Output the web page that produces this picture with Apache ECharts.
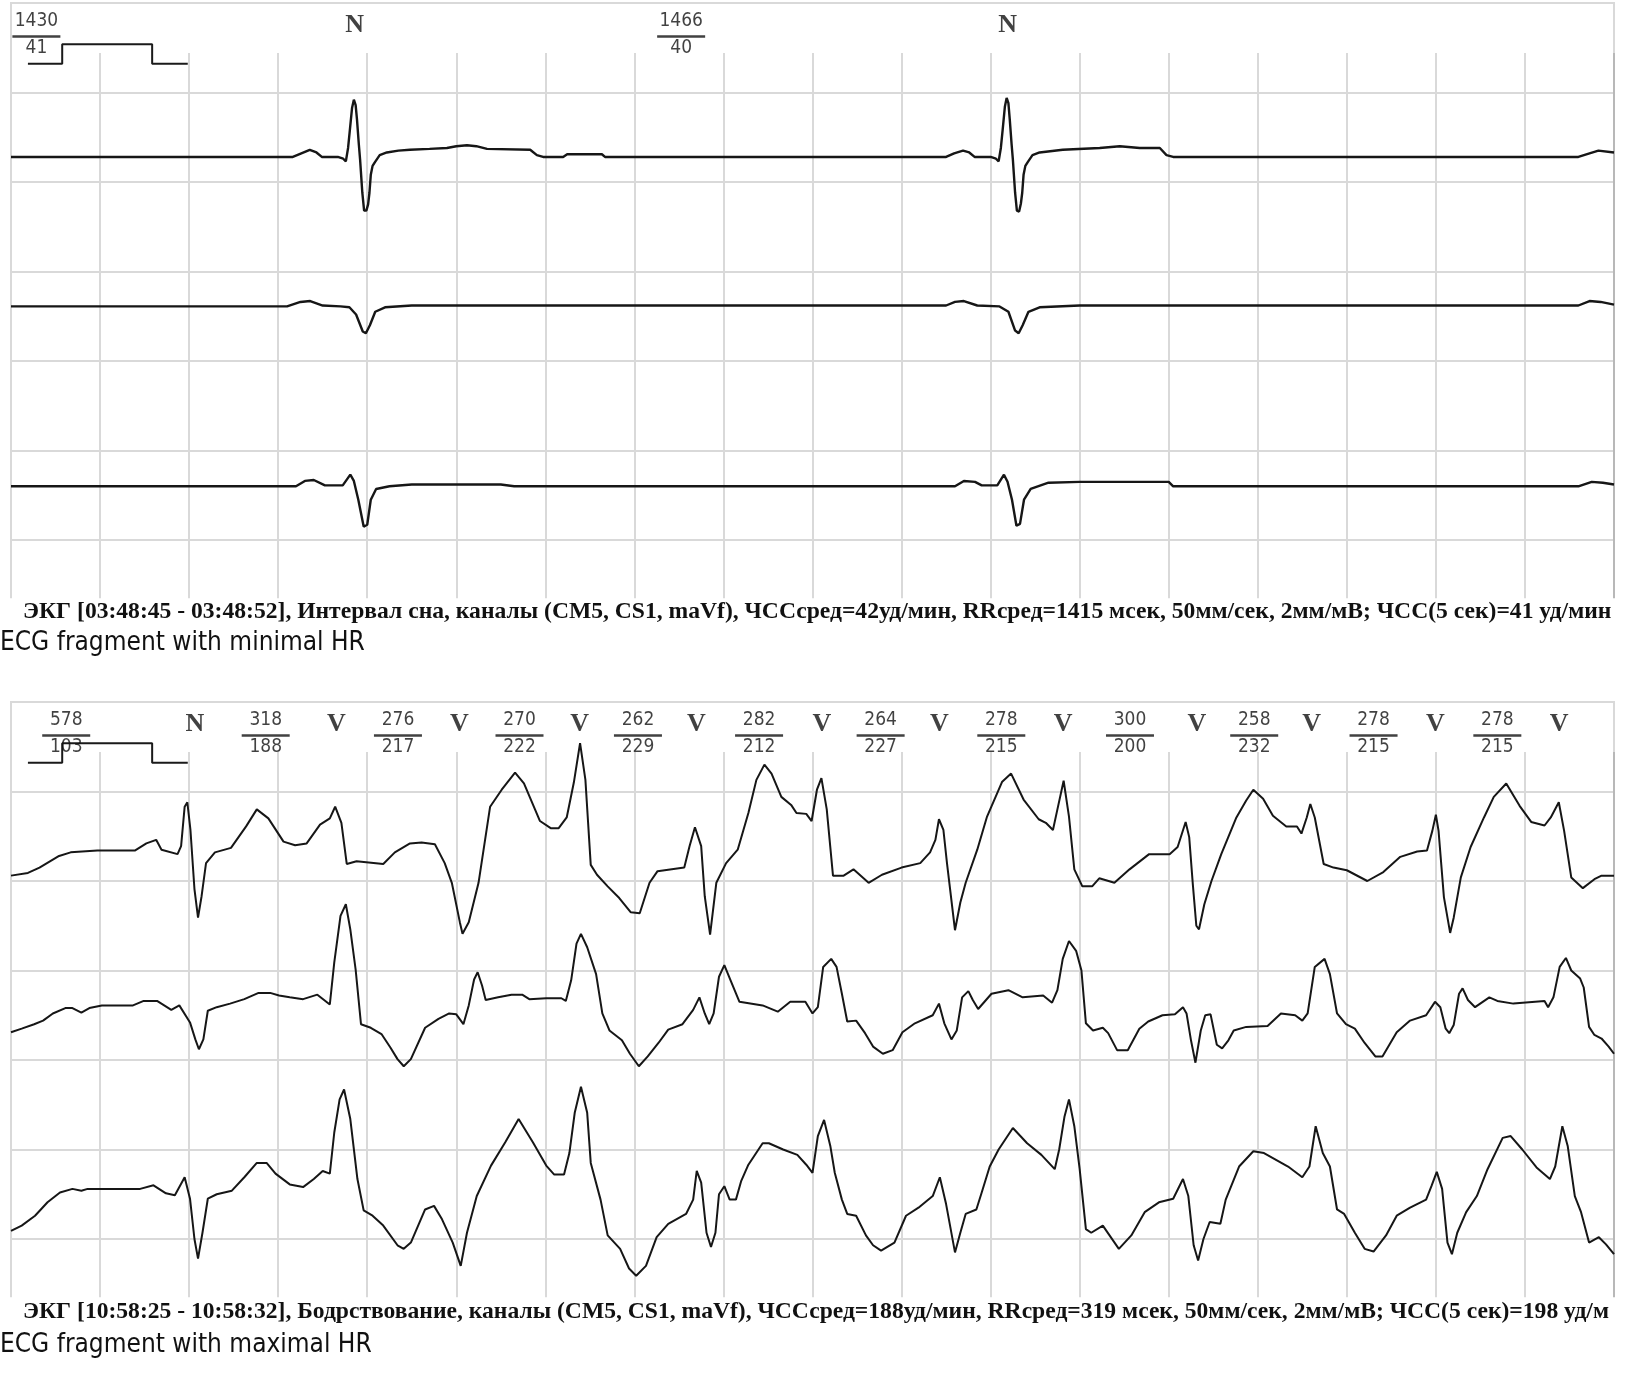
<!DOCTYPE html>
<html>
<head>
<meta charset="utf-8">
<script src="https://cdn.jsdelivr.net/npm/echarts@6/dist/echarts.min.js"></script>
<style>html,body{margin:0;padding:0;background:#fff}#c{width:1626px;height:1377px}</style>
</head>
<body>
<div id="c"></div>
<script>
// ---------- DATA (time in ms, amplitude in large grid squares) ----------
const minCh1 = [[0,0],[633,0],[652,0.04],[671,0.08],[686,0.05],[698,0],[734,0],[746,-0.02],[752,-0.05],[757,0.1],[761,0.3],[766,0.55],[770,0.64],[774,0.58],[777,0.42],[781,0.15],[784,-0.03],[789,-0.4],[793,-0.6],[798,-0.6],[802,-0.53],[805,-0.4],[808,-0.2],[812,-0.1],[817,-0.06],[828,0.02],[844,0.05],[870,0.07],[896,0.08],[940,0.09],[979,0.1],[1000,0.12],[1024,0.13],[1045,0.12],[1069,0.09],[1166,0.08],[1181,0.02],[1195,0],[1240,0],[1249,0.03],[1327,0.03],[1334,0],[2100,0],[2118,0.04],[2138,0.07],[2152,0.05],[2164,0],[2200,0],[2212,-0.02],[2218,-0.05],[2223,0.1],[2227,0.3],[2232,0.56],[2236,0.66],[2240,0.6],[2243,0.42],[2247,0.15],[2250,-0.03],[2255,-0.4],[2259,-0.6],[2264,-0.61],[2268,-0.52],[2271,-0.4],[2274,-0.2],[2278,-0.1],[2283,-0.06],[2294,0.02],[2310,0.05],[2362,0.08],[2445,0.1],[2490,0.12],[2535,0.1],[2580,0.1],[2595,0.02],[2610,0],[3520,0],[3545,0.04],[3565,0.07],[3600,0.05]];
const minCh2 = [[0,0.01],[620,0.01],[650,0.06],[672,0.07],[700,0.02],[740,0.01],[760,0],[775,-0.08],[790,-0.27],[797,-0.29],[806,-0.2],[818,-0.05],[840,0],[900,0.02],[1000,0.02],[2100,0.02],[2120,0.06],[2140,0.07],[2170,0.02],[2220,0.01],[2240,-0.05],[2255,-0.26],[2263,-0.29],[2272,-0.2],[2285,-0.05],[2310,0],[2400,0.02],[3520,0.02],[3545,0.07],[3570,0.06],[3600,0.03]];
const minCh3 = [[0,0],[640,0],[660,0.06],[680,0.07],[705,0.01],[745,0.01],[762,0.13],[770,0.06],[780,-0.15],[792,-0.45],[800,-0.43],[808,-0.15],[820,-0.03],[850,0],[900,0.02],[1100,0.02],[1130,0],[2120,0],[2140,0.06],[2165,0.05],[2180,0.01],[2215,0.01],[2230,0.13],[2238,0.05],[2248,-0.15],[2258,-0.44],[2266,-0.42],[2275,-0.15],[2290,-0.03],[2330,0.04],[2400,0.05],[2600,0.05],[2610,0],[3520,0],[3550,0.05],[3575,0.04],[3600,0.02]];

const maxCh1 = [[0,0.06],[38,0.09],[64,0.15],[108,0.28],[134,0.32],[194,0.34],[278,0.34],[304,0.42],[326,0.46],[338,0.35],[374,0.30],[382,0.39],[390,0.83],[396,0.88],[403,0.57],[412,-0.09],[420,-0.41],[428,-0.17],[438,0.20],[458,0.32],[494,0.37],[528,0.61],[552,0.80],[578,0.70],[612,0.44],[638,0.40],[664,0.42],[694,0.63],[716,0.70],[728,0.83],[742,0.65],[754,0.19],[776,0.22],[836,0.19],[862,0.32],[896,0.42],[922,0.43],[952,0.41],[974,0.20],[990,-0.02],[1008,-0.46],[1014,-0.59],[1028,-0.46],[1050,-0.02],[1076,0.83],[1102,1.02],[1132,1.21],[1152,1.09],[1188,0.67],[1212,0.59],[1230,0.59],[1248,0.71],[1264,1.10],[1278,1.54],[1290,1.13],[1302,0.18],[1316,0.07],[1340,-0.06],[1366,-0.19],[1392,-0.35],[1412,-0.36],[1434,-0.02],[1452,0.11],[1512,0.15],[1524,0.39],[1536,0.60],[1550,0.39],[1558,-0.17],[1570,-0.60],[1584,-0.02],[1606,0.20],[1632,0.35],[1656,0.76],[1674,1.13],[1692,1.30],[1708,1.20],[1730,0.94],[1752,0.85],[1764,0.76],[1786,0.75],[1798,0.67],[1810,1.02],[1820,1.15],[1832,0.80],[1846,0.06],[1870,0.06],[1892,0.13],[1926,-0.02],[1956,0.07],[2000,0.15],[2042,0.20],[2064,0.32],[2076,0.46],[2084,0.69],[2094,0.57],[2102,0.20],[2120,-0.55],[2132,-0.24],[2144,-0.02],[2170,0.35],[2192,0.72],[2226,1.11],[2246,1.20],[2274,0.91],[2308,0.69],[2324,0.65],[2340,0.57],[2350,0.80],[2364,1.12],[2376,0.72],[2388,0.13],[2406,-0.06],[2428,-0.06],[2444,0.03],[2478,-0.02],[2512,0.13],[2556,0.30],[2602,0.30],[2620,0.38],[2638,0.66],[2646,0.49],[2654,-0.03],[2662,-0.50],[2668,-0.54],[2680,-0.26],[2696,0.00],[2718,0.30],[2752,0.71],[2774,0.90],[2790,1.02],[2812,0.92],[2834,0.73],[2864,0.61],[2888,0.61],[2898,0.53],[2910,0.71],[2918,0.86],[2928,0.71],[2948,0.19],[2970,0.15],[3000,0.12],[3046,0.00],[3082,0.10],[3120,0.27],[3158,0.33],[3180,0.34],[3192,0.56],[3200,0.74],[3206,0.56],[3218,-0.18],[3232,-0.58],[3240,-0.41],[3256,0.04],[3278,0.38],[3308,0.71],[3330,0.94],[3358,1.09],[3388,0.84],[3414,0.66],[3444,0.62],[3458,0.71],[3476,0.88],[3488,0.56],[3504,0.04],[3530,-0.08],[3556,0.02],[3572,0.06],[3600,0.06]];
const maxCh2 = [[0,-0.19],[24,-0.15],[52,-0.10],[72,-0.06],[94,0.02],[122,0.08],[138,0.08],[158,0.03],[176,0.08],[204,0.11],[274,0.11],[298,0.16],[328,0.16],[360,0.06],[378,0.11],[402,-0.08],[414,-0.27],[422,-0.38],[432,-0.27],[442,0.05],[462,0.09],[492,0.13],[524,0.18],[556,0.25],[582,0.25],[602,0.22],[626,0.20],[656,0.18],[688,0.23],[716,0.12],[726,0.59],[740,1.11],[752,1.24],[762,0.96],[774,0.51],[786,-0.10],[808,-0.14],[832,-0.21],[852,-0.36],[868,-0.49],[882,-0.57],[898,-0.49],[930,-0.14],[960,-0.04],[984,0.02],[1000,0.01],[1016,-0.10],[1028,0.11],[1040,0.40],[1048,0.48],[1058,0.33],[1066,0.17],[1094,0.20],[1124,0.23],[1148,0.23],[1164,0.18],[1202,0.19],[1236,0.19],[1246,0.16],[1258,0.39],[1270,0.80],[1280,0.91],[1294,0.76],[1314,0.46],[1328,0.02],[1344,-0.17],[1372,-0.28],[1390,-0.43],[1410,-0.57],[1430,-0.46],[1454,-0.31],[1476,-0.16],[1508,-0.10],[1532,0.06],[1546,0.20],[1558,0.02],[1568,-0.10],[1578,0.02],[1590,0.43],[1602,0.56],[1616,0.39],[1636,0.15],[1688,0.11],[1722,0.04],[1750,0.15],[1784,0.15],[1800,0.02],[1812,0.09],[1824,0.54],[1842,0.63],[1854,0.54],[1866,0.24],[1878,-0.07],[1898,-0.06],[1918,-0.20],[1936,-0.35],[1958,-0.43],[1980,-0.39],[2002,-0.19],[2030,-0.09],[2070,0.00],[2084,0.13],[2096,-0.09],[2112,-0.27],[2124,-0.17],[2136,0.20],[2150,0.27],[2160,0.17],[2172,0.07],[2202,0.24],[2240,0.28],[2272,0.20],[2318,0.22],[2338,0.14],[2350,0.28],[2362,0.63],[2376,0.83],[2392,0.72],[2404,0.50],[2414,-0.09],[2430,-0.17],[2452,-0.14],[2464,-0.20],[2484,-0.39],[2508,-0.39],[2534,-0.15],[2554,-0.07],[2586,0.00],[2614,0.01],[2632,0.09],[2640,0.02],[2650,-0.28],[2660,-0.53],[2672,-0.17],[2682,0.00],[2694,0.01],[2708,-0.33],[2720,-0.37],[2734,-0.28],[2746,-0.17],[2774,-0.13],[2822,-0.12],[2852,0.02],[2884,0.00],[2900,-0.06],[2912,0.02],[2928,0.54],[2950,0.63],[2962,0.46],[2978,0.02],[2998,-0.10],[3018,-0.15],[3040,-0.31],[3064,-0.46],[3080,-0.46],[3112,-0.19],[3142,-0.06],[3178,0.00],[3198,0.15],[3210,0.09],[3222,-0.15],[3230,-0.20],[3240,-0.11],[3252,0.24],[3260,0.30],[3272,0.17],[3288,0.09],[3320,0.20],[3338,0.16],[3374,0.13],[3444,0.16],[3452,0.09],[3464,0.20],[3478,0.54],[3492,0.64],[3504,0.50],[3524,0.41],[3532,0.31],[3544,-0.13],[3556,-0.22],[3572,-0.26],[3588,-0.35],[3600,-0.43]];
const maxCh3 = [[0,-0.41],[24,-0.35],[54,-0.24],[82,-0.09],[110,0.02],[138,0.06],[158,0.04],[172,0.06],[290,0.06],[320,0.10],[348,0.01],[368,-0.01],[390,0.19],[402,-0.05],[412,-0.50],[420,-0.72],[430,-0.43],[442,-0.05],[462,0.00],[496,0.04],[524,0.19],[552,0.35],[574,0.35],[594,0.23],[626,0.11],[656,0.08],[680,0.17],[700,0.26],[716,0.23],[726,0.69],[738,1.06],[748,1.17],[762,0.84],[778,0.17],[792,-0.18],[812,-0.24],[836,-0.35],[868,-0.57],[882,-0.61],[898,-0.54],[930,-0.17],[950,-0.13],[968,-0.28],[992,-0.54],[1010,-0.80],[1024,-0.43],[1046,-0.02],[1078,0.32],[1110,0.58],[1140,0.84],[1172,0.58],[1202,0.32],[1220,0.22],[1242,0.22],[1254,0.46],[1266,0.91],[1280,1.20],[1294,0.91],[1302,0.35],[1324,-0.06],[1340,-0.46],[1368,-0.61],[1388,-0.83],[1404,-0.91],[1426,-0.80],[1450,-0.48],[1476,-0.33],[1516,-0.22],[1532,-0.06],[1540,0.26],[1550,0.13],[1562,-0.43],[1572,-0.59],[1582,-0.43],[1590,0.00],[1602,0.09],[1614,-0.06],[1628,-0.06],[1640,0.15],[1656,0.33],[1688,0.57],[1702,0.57],[1734,0.50],[1766,0.44],[1786,0.33],[1800,0.24],[1812,0.65],[1826,0.83],[1840,0.54],[1850,0.24],[1866,-0.06],[1878,-0.22],[1898,-0.24],[1920,-0.46],[1936,-0.57],[1954,-0.63],[1984,-0.54],[2010,-0.24],[2038,-0.15],[2070,-0.02],[2086,0.19],[2100,-0.11],[2120,-0.65],[2132,-0.43],[2144,-0.22],[2168,-0.17],[2180,0.02],[2198,0.31],[2218,0.50],[2250,0.74],[2282,0.57],[2314,0.44],[2344,0.28],[2354,0.50],[2366,0.87],[2376,1.06],[2388,0.76],[2400,0.28],[2414,-0.39],[2426,-0.43],[2452,-0.35],[2488,-0.61],[2516,-0.46],[2546,-0.20],[2578,-0.09],[2610,-0.05],[2632,0.17],[2644,-0.02],[2656,-0.57],[2666,-0.74],[2678,-0.50],[2692,-0.31],[2716,-0.33],[2728,-0.06],[2758,0.31],[2790,0.48],[2814,0.46],[2868,0.31],[2900,0.19],[2916,0.31],[2930,0.76],[2946,0.46],[2962,0.31],[2978,-0.17],[2994,-0.22],[3018,-0.43],[3040,-0.61],[3060,-0.64],[3088,-0.46],[3112,-0.24],[3142,-0.15],[3178,-0.06],[3190,0.09],[3202,0.25],[3214,0.06],[3226,-0.54],[3236,-0.67],[3248,-0.43],[3268,-0.20],[3292,-0.02],[3316,0.28],[3350,0.63],[3368,0.65],[3394,0.50],[3426,0.30],[3456,0.17],[3468,0.31],[3484,0.76],[3496,0.54],[3512,-0.02],[3526,-0.20],[3544,-0.54],[3566,-0.48],[3582,-0.56],[3600,-0.67]];

const minBeatTimes = [772, 2238];
const minBeatTypes = ['N', 'N'];
const minRR = [1430, 1466];
const minHR = [41, 40];

const maxBeatTimes = [413, 731, 1007, 1277, 1539, 1821, 2085, 2363, 2663, 2921, 3199, 3477];
const maxBeatTypes = ['N', 'V', 'V', 'V', 'V', 'V', 'V', 'V', 'V', 'V', 'V', 'V'];
const maxRR = [578, 318, 276, 270, 262, 282, 264, 278, 300, 258, 278, 278];
const maxHR = [103, 188, 217, 222, 229, 212, 227, 215, 200, 232, 215, 215];

const calibT = [38, 115, 115, 317, 317, 397];
const calibV = [-0.68, -0.68, -0.46, -0.46, -0.68, -0.68];

const minCaption = 'ЭКГ [03:48:45 - 03:48:52], Интервал сна, каналы (CM5, CS1, maVf), ЧССсред=42уд/мин, RRсред=1415 мсек, 50мм/сек, 2мм/мВ; ЧСС(5 сек)=41 уд/мин';
const maxCaption = 'ЭКГ [10:58:25 - 10:58:32], Бодрствование, каналы (CM5, CS1, maVf), ЧССсред=188уд/мин, RRсред=319 мсек, 50мм/сек, 2мм/мВ; ЧСС(5 сек)=198 уд/м';
const minTitle = 'ECG fragment with minimal HR';
const maxTitle = 'ECG fragment with maximal HR';

// ---------- LAYOUT ----------
const CELL = 89.5, X0 = 11, XW = 1603;
const panels = [
  { top: 3, traces: [minCh1, minCh2, minCh3], base: [-1.72, -3.4, -5.4], lw: 2.4, beats: minBeatTimes, types: minBeatTypes, rr: minRR, hr: minHR },
  { top: 702, traces: [maxCh1, maxCh2, maxCh3], base: [-2, -3.5, -5.5], lw: 2, beats: maxBeatTimes, types: maxBeatTypes, rr: maxRR, hr: maxHR }
];
const GRID_C = '#d9d9d9';
const numFont = "'Liberation Sans Narrow', 'DejaVu Sans Condensed', Roboto, sans-serif";

const grid = [], xAxis = [], yAxis = [], series = [];
const vColors = Array.from({length: 19}, (_, i) => i === 18 ? '#b8b8b8' : GRID_C);

panels.forEach((p, i) => {
  const g = i * 2;
  grid.push({ left: X0, top: p.top, width: XW, height: 6 * CELL, show: true, borderColor: GRID_C, borderWidth: 2, backgroundColor: 'transparent' });
  grid.push({ left: X0, top: p.top + 50, width: XW, height: 6.65 * CELL - 50, show: false });
  xAxis.push({ gridIndex: g, type: 'value', min: 0, max: 3600, show: false });
  xAxis.push({ gridIndex: g + 1, type: 'value', min: 0, max: 3600, interval: 200,
    axisLine: { show: false }, axisTick: { show: false }, axisLabel: { show: false },
    splitLine: { show: true, lineStyle: { color: vColors, width: 2 } } });
  yAxis.push({ gridIndex: g, type: 'value', min: -6, max: 0, interval: 1,
    axisLine: { show: false }, axisTick: { show: false }, axisLabel: { show: false },
    splitLine: { show: true, lineStyle: { color: GRID_C, width: 2 } } });
  yAxis.push({ gridIndex: g + 1, type: 'value', min: 0, max: 1, show: false });

  // ECG traces
  p.traces.forEach((tr, k) => {
    series.push({ type: 'line', xAxisIndex: g, yAxisIndex: g, showSymbol: false, clip: false, z: 5,
      lineStyle: { color: '#161616', width: p.lw },
      data: tr.map(([t, v]) => [t, p.base[k] + v]) });
  });
  // calibration pulse
  series.push({ type: 'line', xAxisIndex: g, yAxisIndex: g, showSymbol: false, z: 5,
    lineStyle: { color: '#1a1a1a', width: 2 },
    data: calibT.map((t, j) => [t, calibV[j]]) });
  // beat type letters
  series.push({ type: 'scatter', xAxisIndex: g, yAxisIndex: g, symbolSize: 1, z: 6,
    itemStyle: { color: 'rgba(0,0,0,0)' },
    label: { show: true, position: 'inside', formatter: (d) => p.types[d.dataIndex],
      fontFamily: "'Liberation Serif', serif", fontWeight: 'bold', fontSize: 26, color: '#111' },
    data: p.beats.map(t => [t, -0.25]) });
  // fractions: RR over HR, centred mid-interval before each beat
  const fx = p.beats.map((t, j) => t - p.rr[j] / 2);
  series.push({ type: 'scatter', xAxisIndex: g, yAxisIndex: g, symbolSize: 1, z: 6,
    itemStyle: { color: 'rgba(0,0,0,0)' },
    label: { show: true, position: 'inside', formatter: (d) => String(p.rr[d.dataIndex]),
      fontFamily: numFont, fontSize: 19, color: '#111' },
    data: fx.map(x => [x, -0.205]) });
  series.push({ type: 'scatter', xAxisIndex: g, yAxisIndex: g, symbol: 'rect', symbolSize: [48, 2.5], z: 6,
    itemStyle: { color: '#111' },
    data: fx.map(x => [x, -0.375]) });
  series.push({ type: 'scatter', xAxisIndex: g, yAxisIndex: g, symbolSize: 1, z: 7,
    itemStyle: { color: 'rgba(0,0,0,0)' },
    label: { show: true, position: 'inside', formatter: (d) => String(p.hr[d.dataIndex]),
      fontFamily: numFont, fontSize: 19, color: '#111' },
    data: fx.map(x => [x, -0.5]) });
});

const capFont = "bold 23.6px 'Liberation Serif', serif";
const titleFont = "26px 'DejaVu Sans Condensed', 'Liberation Sans Narrow', sans-serif";
const option = {
  backgroundColor: '#fff',
  animation: false,
  grid, xAxis, yAxis, series,
  graphic: [
    { type: 'text', x: 23, y: 612, style: { text: minCaption, font: capFont, fill: '#111', verticalAlign: 'middle' } },
    { type: 'text', x: 0, y: 643, style: { text: minTitle, font: titleFont, fill: '#111', verticalAlign: 'middle' } },
    { type: 'text', x: 23, y: 1312, style: { text: maxCaption, font: capFont, fill: '#111', verticalAlign: 'middle' } },
    { type: 'text', x: 0, y: 1345, style: { text: maxTitle, font: titleFont, fill: '#111', verticalAlign: 'middle' } }
  ]
};
const chart = echarts.init(document.getElementById('c'), null, { renderer: 'canvas' });
chart.setOption(option);
</script>
</body>
</html>
